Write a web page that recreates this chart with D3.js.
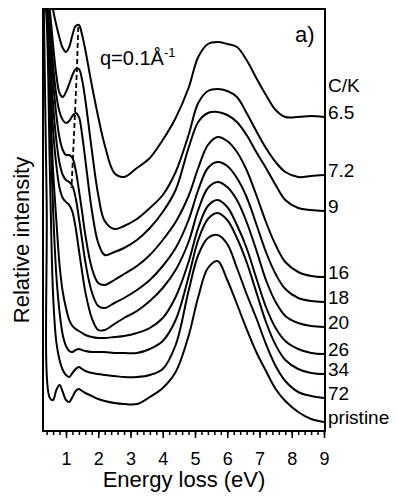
<!DOCTYPE html>
<html>
<head>
<meta charset="utf-8">
<script src="https://d3js.org/d3.v7.min.js"></script>
<style>
body { margin: 0; background: #fff; }
text { font-family: "Liberation Sans", Arial, Helvetica, sans-serif; fill: #000; }
</style>
</head>
<body>
<div id="chart-area"></div>
<script>
// energy grid (eV) shared by all spectra
var energy = [0.3, 0.4, 0.5, 0.6, 0.7, 0.8, 0.9, 1.0, 1.1, 1.2, 1.3, 1.4, 1.5, 1.6, 1.8, 2.0, 2.2, 2.5, 2.8,
              3.2, 3.6, 4.0, 4.4, 4.8, 5.1, 5.4, 5.7, 6.0, 6.3, 6.6, 6.9, 7.2, 7.5, 7.8, 8.2, 8.6, 9.0];

// relative intensity (arb. units, curves offset vertically)
var ck65 = [491, 471, 446, 421, 406, 393, 383, 379, 384, 396, 405, 406, 396, 381, 346, 314, 286, 258, 254,
            263, 273, 291, 313, 343, 374, 387, 389, 387, 384, 371, 353, 336, 321, 314, 314, 315, 314];
var ck72 = [471, 451, 421, 386, 356, 338, 334, 339, 347, 356, 362, 362, 351, 331, 281, 236, 210, 202, 205,
            212, 223, 236, 259, 296, 328, 340, 342, 340, 334, 318, 300, 283, 269, 259, 254, 255, 256];
var ck9 = [461, 446, 411, 366, 336, 319, 311, 308, 310, 315, 318, 314, 296, 271, 221, 188, 176, 179, 183,
           191, 203, 219, 241, 283, 309, 318, 319, 316, 309, 296, 279, 263, 246, 231, 223, 221, 220];
var ck16 = [461, 441, 401, 351, 316, 293, 281, 276, 276, 273, 261, 241, 219, 196, 163, 148, 146, 151, 157,
            165, 176, 191, 209, 235, 263, 286, 294, 290, 279, 261, 236, 209, 186, 169, 159, 155, 154];
var ck18 = [451, 441, 381, 326, 291, 268, 256, 251, 249, 245, 233, 213, 191, 169, 139, 125, 123, 128, 133,
            141, 151, 165, 183, 211, 241, 263, 269, 265, 253, 234, 207, 179, 157, 142, 133, 130, 129];
var ck20 = [451, 436, 361, 301, 266, 243, 233, 229, 226, 219, 203, 181, 159, 139, 113, 101, 101, 107, 113,
            120, 130, 143, 161, 189, 221, 243, 249, 244, 231, 209, 181, 151, 129, 115, 108, 105, 104];
var ck26 = [451, 436, 341, 261, 211, 166, 139, 123, 111, 105, 102, 100, 98, 96, 94, 93, 93, 94, 95,
            98, 103, 113, 134, 169, 203, 225, 231, 224, 206, 183, 153, 124, 103, 90, 82, 78, 77];
var ck34 = [451, 436, 321, 221, 156, 119, 96, 85, 80, 79, 81, 82, 81, 80, 79, 79, 79, 78, 78,
            78, 82, 90, 111, 154, 191, 212, 218, 211, 193, 169, 139, 109, 86, 71, 62, 58, 57];
var ck72b = [451, 411, 261, 136, 89, 71, 61, 56, 54, 58, 62, 64, 62, 60, 58, 57, 56, 55, 54,
             54, 56, 62, 86, 140, 176, 193, 196, 187, 163, 137, 113, 87, 65, 50, 39, 35, 33];
var pristine = [451, 231, 33, 31, 41, 46, 39, 31, 29, 34, 40, 42, 40, 38, 35, 32, 30, 28, 27,
                27, 34, 43, 59, 95, 134, 163, 170, 151, 127, 102, 79, 60, 42, 30, 19, 12, 9];

var seriesList = [ck65, ck72, ck9, ck16, ck18, ck20, ck26, ck34, ck72b, pristine];
var seriesLabels = ["6.5", "7.2", "9", "16", "18", "20", "26", "34", "72", "pristine"];

// dashed guide through the low-energy K plasmon peaks
var peakEnergy = [1.38, 1.34, 1.28, 1.17];
var peakValue = [404, 363, 318, 243];

var xTickLabels = [1, 2, 3, 4, 5, 6, 7, 8, 9];

var svg = d3.select("#chart-area").append("svg")
    .attr("width", 398)
    .attr("height", 500);

var x = d3.scaleLinear().domain([0.287, 9.031]).range([43, 325]);
var y = d3.scaleLinear().domain([0, 422]).range([431, 9]);

svg.append("clipPath").attr("id", "plot-clip")
  .append("rect")
    .attr("x", 43).attr("y", 9)
    .attr("width", 282).attr("height", 422);

var line = d3.line()
    .x(function(d){ return x(d[0]); })
    .y(function(d){ return y(d[1]); })
    .curve(d3.curveCatmullRom.alpha(0.5));

var plot = svg.append("g").attr("clip-path", "url(#plot-clip)");

plot.selectAll("path.spectrum")
    .data(seriesList)
    .enter()
    .append("path")
      .attr("class", "spectrum")
      .attr("d", function(s){
          return line(s.map(function(v, i){ return [energy[i], v]; }));
      })
      .attr("fill", "none")
      .attr("stroke", "#000")
      .attr("stroke-width", 2)
      .attr("stroke-linejoin", "round");

plot.append("path")
    .attr("d", d3.line()
        .x(function(d){ return x(d[0]); })
        .y(function(d){ return y(d[1]); })(peakEnergy.map(function(e, i){ return [e, peakValue[i]]; })))
    .attr("fill", "none")
    .attr("stroke", "#000")
    .attr("stroke-width", 1.8)
    .attr("stroke-dasharray", "5,3");

// minor ticks every 0.2 eV
var minorAxis = d3.axisBottom(x)
    .tickValues(d3.range(0.4, 9.01, 0.2))
    .tickSize(4)
    .tickFormat("");
svg.append("g")
    .attr("transform", "translate(0,431)")
    .call(minorAxis)
    .call(function(g){ g.select(".domain").remove(); })
    .selectAll("line").attr("stroke-width", 1.5);

var majorAxis = d3.axisBottom(x)
    .tickValues(xTickLabels)
    .tickSize(7)
    .tickPadding(14)
    .tickFormat(d3.format("d"));
var gx = svg.append("g")
    .attr("transform", "translate(0,431)")
    .call(majorAxis);
gx.select(".domain").remove();
gx.selectAll("line").attr("stroke-width", 1.5);
gx.selectAll("text")
    .attr("font-size", "18px")
    .attr("font-family", "Liberation Sans, Arial, sans-serif");

// frame
svg.append("rect")
    .attr("x", 43).attr("y", 9)
    .attr("width", 282).attr("height", 422)
    .attr("fill", "none")
    .attr("stroke", "#000")
    .attr("stroke-width", 2);

svg.append("text")
    .attr("x", 184)
    .attr("y", 487)
    .attr("text-anchor", "middle")
    .attr("font-size", "22px")
    .text("Energy loss (eV)");

svg.append("text")
    .attr("transform", "translate(29,240) rotate(-90)")
    .attr("text-anchor", "middle")
    .attr("font-size", "22px")
    .text("Relative intensity");

svg.append("text")
    .attr("x", 295)
    .attr("y", 42)
    .attr("font-size", "22px")
    .text("a)");

var q = svg.append("text")
    .attr("x", 100)
    .attr("y", 65)
    .attr("font-size", "20px");
q.append("tspan").text("q=0.1Å");
q.append("tspan").attr("dy", -8).attr("font-size", "13px").text("-1");

// C/K ratio labels at the right end of each spectrum
svg.selectAll("text.ck")
    .data(seriesList)
    .enter()
    .append("text")
      .attr("class", "ck")
      .attr("x", 328)
      .attr("y", function(s){ return y(s[s.length - 1]) + 2; })
      .attr("font-size", "19px")
      .text(function(s, i){ return seriesLabels[i]; });

svg.append("text")
    .attr("x", 328)
    .attr("y", y(ck65[ck65.length - 1]) - 25)
    .attr("font-size", "19px")
    .text("C/K");
</script>
</body>
</html>
